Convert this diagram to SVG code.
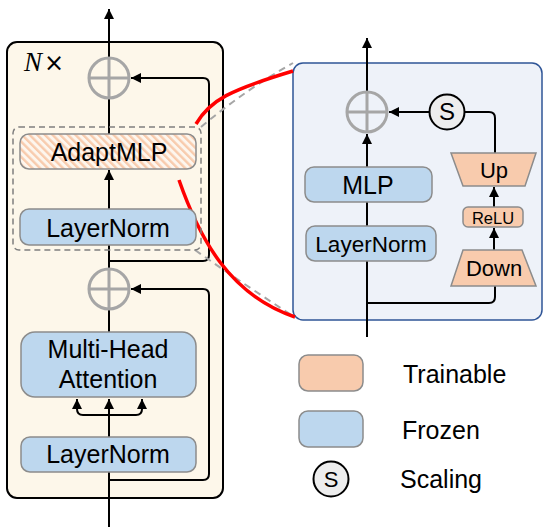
<svg xmlns="http://www.w3.org/2000/svg" width="552" height="527" viewBox="0 0 552 527">
<style>
.t{font-family:"Liberation Sans",Arial,sans-serif;fill:#000;text-anchor:middle}
.blue{fill:#bdd7ee;stroke:#8c8c8c;stroke-width:1.5}
.orange{fill:#f8cbad;stroke:#8c8c8c;stroke-width:1.5}
.ln{fill:none;stroke:#000;stroke-width:2}
.arr{fill:none;stroke:#000;stroke-width:2;marker-end:url(#ah)}
.plus{fill:none;stroke:#a6a6a6;stroke-width:3}
.red{fill:none;stroke:#ff0000;stroke-width:3.5}
.gd{fill:none;stroke:#a6a6a6;stroke-width:2;stroke-dasharray:7 5}
</style>
<defs>
<marker id="ah" viewBox="0 0 10 10" refX="10" refY="5" markerWidth="5" markerHeight="5.5" orient="auto" markerUnits="strokeWidth">
<path d="M0,0 L10,5 L0,10 z" fill="#000"/>
</marker>
<pattern id="hatch" patternUnits="userSpaceOnUse" width="5.4" height="8" patternTransform="rotate(-45)">
<rect width="5.4" height="8" fill="#fdf6ee"/>
<rect x="0" y="0" width="2.4" height="8" fill="#f8cbad"/>
</pattern>
</defs>

<g id="encoder-block">
<rect x="7" y="42" width="216" height="456" rx="10" fill="#fdf7ea" stroke="#000" stroke-width="2"/>
<text x="24" y="71" font-family="'Liberation Serif',serif" font-size="27"><tspan font-style="italic">N</tspan><tspan dx="2" font-family="'DejaVu Sans',sans-serif" font-size="24">×</tspan></text>
</g>
<g id="adaptmlp-detail">
<rect x="293" y="63" width="249" height="257" rx="10" fill="#eef2f9" stroke="#2f5597" stroke-width="1.5"/>
</g>

<g id="connectors">
<!-- left -->
<path class="arr" d="M109,57 V9"/>
<path class="ln" d="M109,99 V134"/>
<path class="arr" d="M109,209 V170"/>
<path class="ln" d="M109,245 V268"/>
<path class="arr" d="M109,261 H203 Q209,261 209,255 V84 Q209,78 203,78 H131"/>
<path class="ln" d="M109,310 V332"/>
<path class="arr" d="M109,480 H203 Q209,480 209,474 V295 Q209,289 203,289 H131"/>
<path class="ln" d="M109,527 V472"/>
<path class="arr" d="M109,437 V399"/>
<path class="arr" d="M109,415 H83 Q77,415 77,409 V399"/>
<path class="arr" d="M109,415 H136 Q142,415 142,409 V399"/>
<!-- right -->
<path class="arr" d="M367,92 V38"/>
<path class="arr" d="M367,167 V134"/>
<path class="ln" d="M367,226 V202"/>
<path class="ln" d="M367,337 V261"/>
<path class="ln" d="M367,303 H489 Q495,303 495,297 V286"/>
<path class="arr" d="M494,250 V228"/>
<path class="arr" d="M494,207 V187"/>
<path class="ln" d="M495,153 V118 Q495,112 489,112 H465"/>
<path class="arr" d="M429,112 H389"/>
<!-- zoom lines -->
<path class="gd" d="M201,127 Q245,90 293,63"/>
<path class="gd" d="M195,250 Q245,285 293,316"/>
<path class="red" d="M196,124 C210,100 230,90 293,71"/>
<path class="red" d="M179,180 C200,240 230,295 295,317"/>
</g>

<g id="add-top">
<circle cx="109" cy="78" r="20" class="plus"/>
<path class="plus" d="M89,78 H129 M109,58 V98"/>
</g>
<g id="adapter-region">
<rect x="13" y="127" width="188" height="123" rx="6" fill="none" stroke="#7f7f7f" stroke-width="1.5" stroke-dasharray="6 4"/>
</g>
<g id="adaptmlp">
<rect x="20" y="134" width="176" height="35" rx="9" fill="url(#hatch)" stroke="#8c8c8c" stroke-width="1.5"/>
<text class="t" x="109" y="161" font-size="25">AdaptMLP</text>
</g>
<g id="layernorm-top">
<rect class="blue" x="20" y="209" width="176" height="36" rx="9"/>
<text class="t" x="108" y="237" font-size="25">LayerNorm</text>
</g>
<g id="add-bottom">
<circle cx="109" cy="289" r="20" class="plus"/>
<path class="plus" d="M89,289 H129 M109,269 V309"/>
</g>
<g id="mha">
<rect class="blue" x="21" y="332" width="175" height="65" rx="14"/>
<text class="t" x="108" y="358" font-size="25">Multi-Head</text>
<text class="t" x="108" y="388" font-size="25">Attention</text>
</g>
<g id="layernorm-bottom">
<rect class="blue" x="21" y="437" width="175" height="35" rx="9"/>
<text class="t" x="108" y="463" font-size="25">LayerNorm</text>
</g>

<g id="add-right">
<circle cx="367" cy="112" r="20" class="plus"/>
<path class="plus" d="M347,112 H387 M367,92 V132"/>
</g>
<g id="scale">
<circle cx="447" cy="112" r="17.5" fill="#ededed" stroke="#000" stroke-width="2"/>
<text class="t" x="447" y="120" font-size="24">S</text>
</g>
<g id="mlp">
<rect class="blue" x="305" y="167" width="127" height="35" rx="9"/>
<text class="t" x="368" y="194" font-size="25">MLP</text>
</g>
<g id="layernorm-right">
<rect class="blue" x="306" y="226" width="130" height="35" rx="9"/>
<text class="t" x="371" y="252" font-size="22.5">LayerNorm</text>
</g>
<g id="up">
<polygon class="orange" points="451,153 536,153 525,186 463,186"/>
<text class="t" x="494" y="178" font-size="22">Up</text>
</g>
<g id="relu">
<rect class="orange" x="463" y="207" width="60" height="20" rx="5"/>
<text class="t" x="493" y="223.5" font-size="16.5">ReLU</text>
</g>
<g id="down">
<polygon class="orange" points="463,250 522,250 536,286 451,286"/>
<text class="t" x="494" y="276" font-size="22">Down</text>
</g>

<g id="legend-trainable">
<rect class="orange" x="299" y="355" width="64" height="36" rx="9"/>
<text x="403" y="383" font-family="'Liberation Sans',Arial,sans-serif" font-size="25">Trainable</text>
</g>
<g id="legend-frozen">
<rect class="blue" x="299" y="411" width="64" height="36" rx="9"/>
<text x="402" y="439" font-family="'Liberation Sans',Arial,sans-serif" font-size="25">Frozen</text>
</g>
<g id="legend-scaling">
<circle cx="331" cy="479" r="17.5" fill="#ededed" stroke="#000" stroke-width="2"/>
<text class="t" x="331" y="487" font-size="22">S</text>
<text x="400" y="488" font-family="'Liberation Sans',Arial,sans-serif" font-size="25">Scaling</text>
</g>
</svg>
